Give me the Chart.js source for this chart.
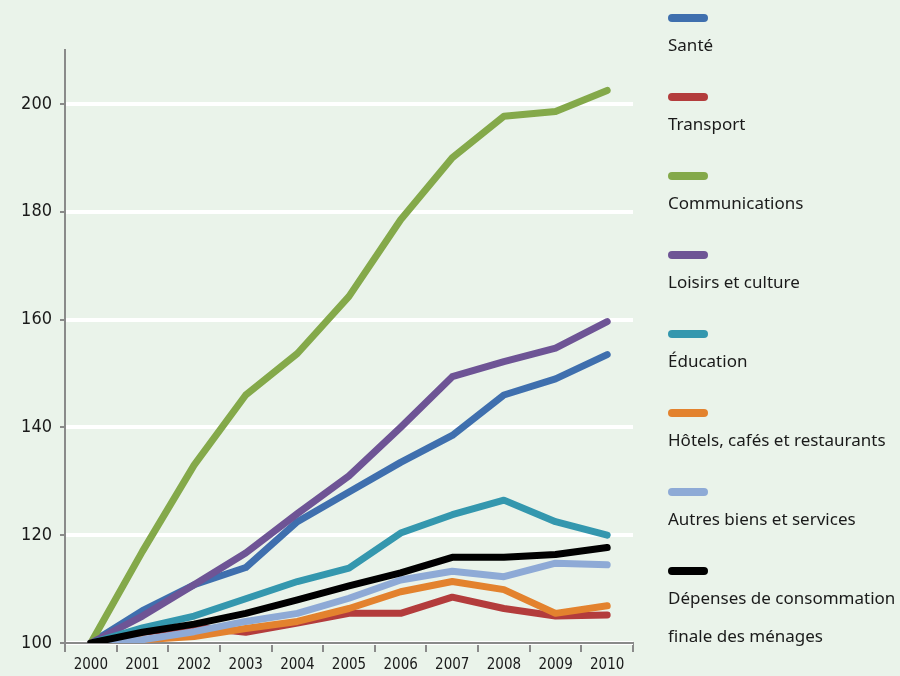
<!DOCTYPE html>
<html>
<head>
<meta charset="utf-8">
<script src="https://cdn.jsdelivr.net/npm/chart.js@4"></script>
<style>
  html, body { margin: 0; padding: 0; background: #eaf3ea; }
  #wrap { position: relative; width: 900px; height: 676px; }
  #legend { position: absolute; left: 668px; top: 0; font-family: 'Noto Sans', sans-serif; font-size: 17px; color: #1a1a1a; }
  .item { position: absolute; left: 0; white-space: nowrap; }
  .sym { width: 40px; height: 8px; border-radius: 4px; }
  .lbl { margin-top: 4px; line-height: 38px; }
</style>
</head>
<body>
<div id="wrap">
  <canvas id="myChart" width="900" height="676"></canvas>
  <div id="legend"></div>
</div>
<script>
const annees = ['2000','2001','2002','2003','2004','2005','2006','2007','2008','2009','2010']

const sante = [100, 106, 110.8, 114, 122.5, 128, 133.5, 138.5, 146, 149, 153.5]
const transport = [100, 102, 103, 102, 103.7, 105.5, 105.5, 108.5, 106.4, 105, 105.2]
const communications = [100, 117, 133, 146, 153.7, 164.3, 178.5, 190, 197.7, 198.6, 202.5]
const loisirs = [100, 105, 110.8, 116.7, 124, 131, 140, 149.4, 152.2, 154.7, 159.6]
const education = [100, 102.8, 105, 108.2, 111.4, 113.9, 120.4, 123.8, 126.5, 122.5, 120]
const hotels = [100, 100.6, 101.2, 102.7, 104, 106.4, 109.5, 111.4, 109.9, 105.5, 106.9]
const autres = [100, 100.6, 102.1, 104, 105.5, 108.3, 111.7, 113.3, 112.3, 114.8, 114.5]
const depenses = [100, 102, 103.5, 105.5, 108, 110.6, 113, 115.9, 115.9, 116.4, 117.7]

const noms = ['Santé', 'Transport', 'Communications', 'Loisirs et culture', 'Éducation',
  'Hôtels, cafés et restaurants', 'Autres biens et services', 'Dépenses de consommation finale des ménages']
const series = [sante, transport, communications, loisirs, education, hotels, autres, depenses]
const couleurs = ['#3f6fae', '#b33c3c', '#84a94a', '#6e5495', '#3497ae', '#e3822e', '#8eaad6', '#000000']

const fond = {
  id: 'fond',
  beforeDraw(chart) {
    const c = chart.ctx
    c.save()
    c.fillStyle = '#eaf3ea'
    c.fillRect(0, 0, chart.width, chart.height)
    c.restore()
  }
}

const police = "'Liberation Sans Narrow', 'DejaVu Sans Condensed', sans-serif"

const ctx = document.getElementById('myChart')
new Chart(ctx, {
  type: 'line',
  data: {
    labels: annees,
    datasets: series.map((s, i) => ({
      label: noms[i],
      data: s,
      borderColor: couleurs[i],
      backgroundColor: couleurs[i],
      borderWidth: 7,
      borderCapStyle: 'round',
      borderJoinStyle: 'round',
      pointRadius: 0,
      tension: 0,
      order: series.length - i
    }))
  },
  options: {
    responsive: false,
    animation: false,
    layout: { padding: { left: 0, right: 267, top: 50, bottom: 0 } },
    plugins: { legend: { display: false }, tooltip: { enabled: false } },
    scales: {
      x: {
        offset: true,
        grid: { offset: true, drawOnChartArea: false, color: '#8a8a8a', tickLength: 9, lineWidth: 2 },
        border: { color: '#8a8a8a', width: 2 },
        ticks: { color: '#1a1a1a', font: { family: police, size: 15 }, padding: 4, maxRotation: 0 },
        afterFit(scale) { scale.height = 33 }
      },
      y: {
        min: 100,
        max: 210,
        grid: { color: '#ffffff', lineWidth: 4, tickColor: '#8a8a8a', tickLength: 5, tickWidth: 2 },
        border: { color: '#8a8a8a', width: 2 },
        ticks: { stepSize: 20, includeBounds: false, color: '#1a1a1a', font: { family: police, size: 18 }, padding: 8 },
        afterFit(scale) { scale.width = 65 }
      }
    }
  },
  plugins: [fond]
})

const legende = document.getElementById('legend')
noms.forEach((n, i) => {
  const d = document.createElement('div')
  d.className = 'item'
  d.style.top = (14 + i * 79) + 'px'
  const texte = i === 7 ? 'Dépenses de consommation<br>finale des ménages' : n
  d.innerHTML = '<div class="sym" style="background:' + couleurs[i] + '"></div><div class="lbl">' + texte + '</div>'
  legende.appendChild(d)
})
</script>
</body>
</html>
